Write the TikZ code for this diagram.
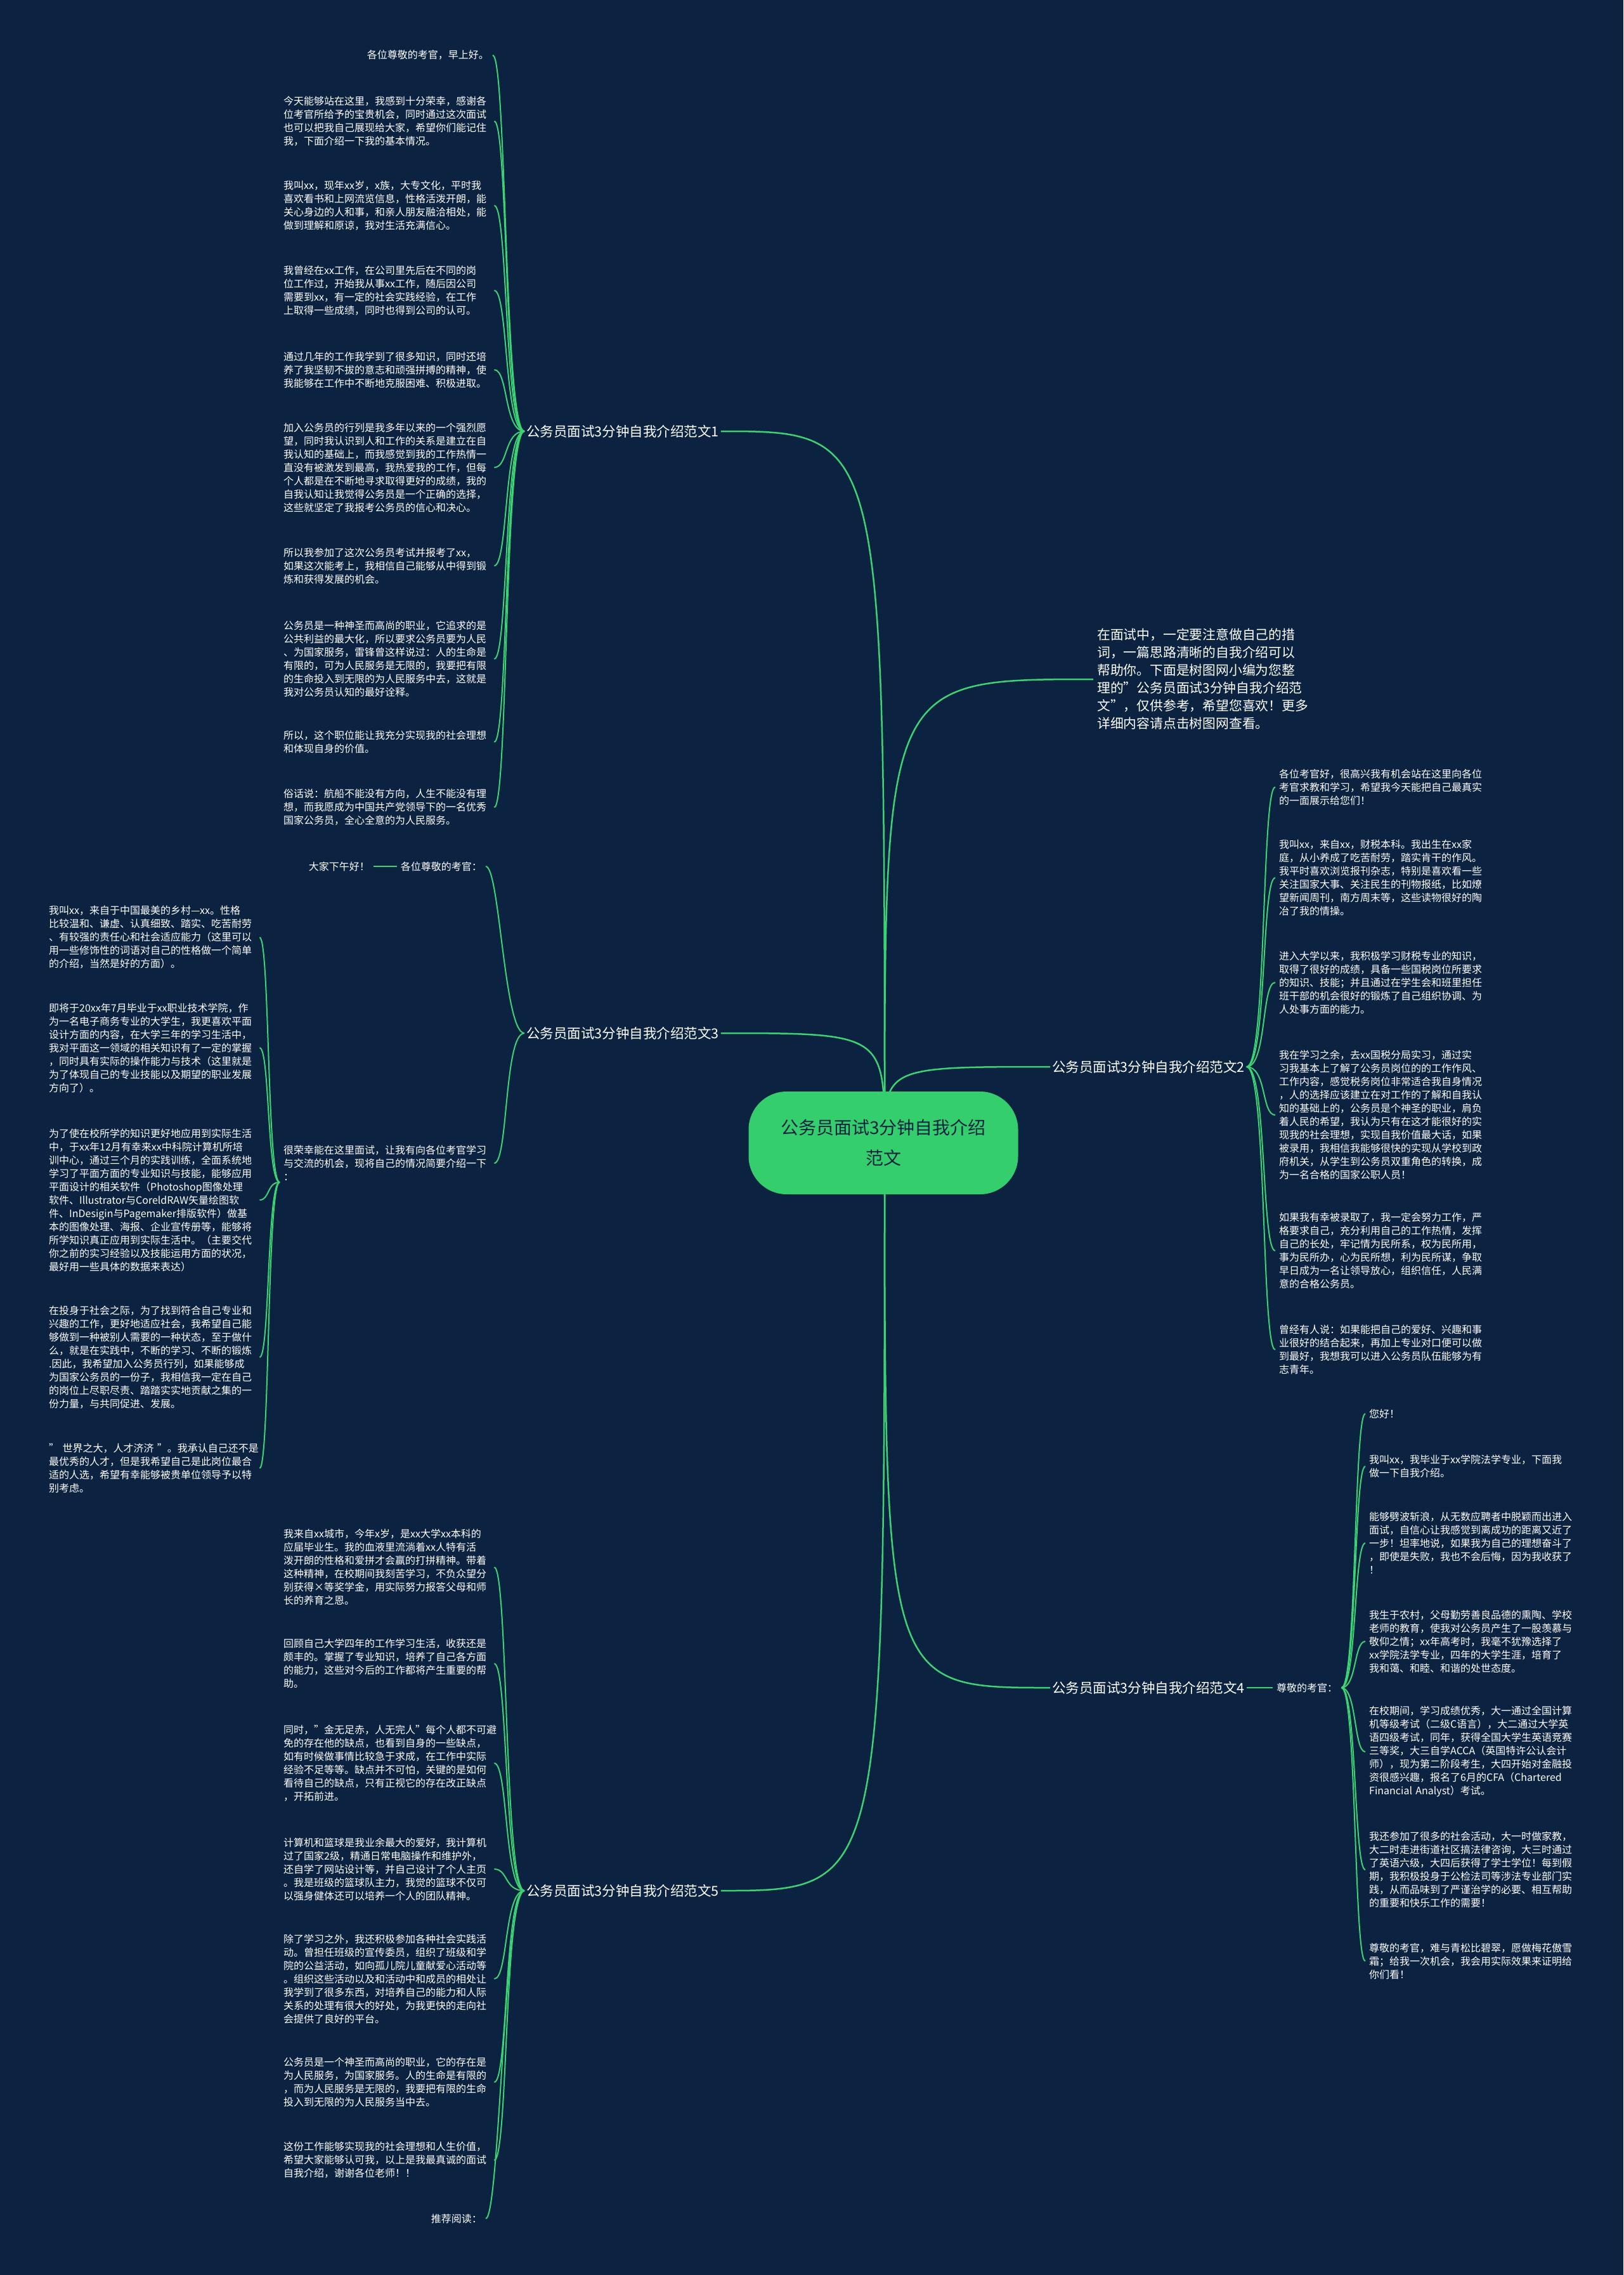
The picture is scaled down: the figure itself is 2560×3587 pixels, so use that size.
\documentclass[tikz,border=0pt]{standalone}
\usepackage{fontspec}
\setmainfont{Noto Sans CJK SC}
\usepackage{tikz}
\definecolor{night}{HTML}{0B2341}
\definecolor{leaf}{HTML}{3DD373}
\definecolor{pill}{HTML}{34CF6C}

\begin{document}
\begin{tikzpicture}[x=1pt,y=-1pt,
  txt/.style={anchor=west,align=left,text width=326pt,inner xsep=6pt,inner ysep=2pt,text=white,font=\fontsize{16}{21}\selectfont},
  tip/.style={inner xsep=6pt,inner ysep=2pt,text=white,font=\fontsize{16}{21}\selectfont},
  lab/.style={anchor=west,inner sep=3pt,text=white,font=\fontsize{21.5}{26}\selectfont},
  stem/.style={draw=leaf,line width=2.5pt},
  twig/.style={draw=leaf,line width=2pt}]
  \useasboundingbox (0,0) rectangle (2560,3587);
  \fill[night] (0,0) rectangle (2560,3587);

  % branch 1
  \node[lab] (b1) at (827,680) {公务员面试3分钟自我介绍范文1};
  \node[tip,anchor=east] (b1a) at (777,87) {各位尊敬的考官，早上好。};
  \node[txt] (b1b) at (441,191) {今天能够站在这里，我感到十分荣幸，感谢各\\位考官所给予的宝贵机会，同时通过这次面试\\也可以把我自己展现给大家，希望你们能记住\\我，下面介绍一下我的基本情况。};
  \node[txt] (b1c) at (441,324) {我叫xx，现年xx岁，x族，大专文化，平时我\\喜欢看书和上网流览信息，性格活泼开朗，能\\关心身边的人和事，和亲人朋友融洽相处，能\\做到理解和原谅，我对生活充满信心。};
  \node[txt] (b1d) at (441,458) {我曾经在xx工作，在公司里先后在不同的岗\\位工作过，开始我从事xx工作，随后因公司\\需要到xx，有一定的社会实践经验，在工作\\上取得一些成绩，同时也得到公司的认可。};
  \node[txt] (b1e) at (441,583) {通过几年的工作我学到了很多知识，同时还培\\养了我坚韧不拔的意志和顽强拼搏的精神，使\\我能够在工作中不断地克服困难、积极进取。};
  \node[txt] (b1f) at (441,737) {加入公务员的行列是我多年以来的一个强烈愿\\望，同时我认识到人和工作的关系是建立在自\\我认知的基础上，而我感觉到我的工作热情一\\直没有被激发到最高，我热爱我的工作，但每\\个人都是在不断地寻求取得更好的成绩，我的\\自我认知让我觉得公务员是一个正确的选择，\\这些就坚定了我报考公务员的信心和决心。};
  \node[txt] (b1g) at (441,892) {所以我参加了这次公务员考试并报考了xx，\\如果这次能考上，我相信自己能够从中得到锻\\炼和获得发展的机会。};
  \node[txt] (b1h) at (441,1039) {公务员是一种神圣而高尚的职业，它追求的是\\公共利益的最大化，所以要求公务员要为人民\\、为国家服务，雷锋曾这样说过：人的生命是\\有限的，可为人民服务是无限的，我要把有限\\的生命投入到无限的为人民服务中去，这就是\\我对公务员认知的最好诠释。};
  \node[txt] (b1i) at (441,1170) {所以，这个职位能让我充分实现我的社会理想\\和体现自身的价值。};
  \node[txt] (b1j) at (441,1273) {俗话说：航船不能没有方向，人生不能没有理\\想，而我愿成为中国共产党领导下的一名优秀\\国家公务员，全心全意的为人民服务。};
  \foreach \c in {b1a,b1b,b1c,b1d,b1e,b1f,b1g,b1h,b1i,b1j}
    \draw[twig] (b1.west) .. controls +(-32,0) and +(22,0) .. (\c.east);

  % branch 3
  \node[lab] (b3) at (827,1629) {公务员面试3分钟自我介绍范文3};
  \node[tip,anchor=east] (b3top) at (766,1366) {各位尊敬的考官：};
  \node[tip,anchor=east] (b3hi) at (589,1366) {大家下午好！};
  \node[txt] (b3hr) at (441,1834) {很荣幸能在这里面试，让我有向各位考官学习\\与交流的机会，现将自己的情况简要介绍一下\\：};
  \node[txt] (b3a) at (71,1478) {我叫xx，来自于中国最美的乡村—xx。性格\\比较温和、谦虚、认真细致、踏实、吃苦耐劳\\、有较强的责任心和社会适应能力（这里可以\\用一些修饰性的词语对自己的性格做一个简单\\的介绍，当然是好的方面）。};
  \node[txt] (b3b) at (71,1652) {即将于20xx年7月毕业于xx职业技术学院，作\\为一名电子商务专业的大学生，我更喜欢平面\\设计方面的内容，在大学三年的学习生活中，\\我对平面这一领域的相关知识有了一定的掌握\\，同时具有实际的操作能力与技术（这里就是\\为了体现自己的专业技能以及期望的职业发展\\方向了）。};
  \node[txt] (b3c) at (71,1892) {为了使在校所学的知识更好地应用到实际生活\\中，于xx年12月有幸来xx中科院计算机所培\\训中心，通过三个月的实践训练，全面系统地\\学习了平面方面的专业知识与技能，能够应用\\平面设计的相关软件（Photoshop图像处理\\软件、Illustrator与CoreldRAW矢量绘图软\\件、InDesigin与Pagemaker排版软件）做基\\本的图像处理、海报、企业宣传册等，能够将\\所学知识真正应用到实际生活中。（主要交代\\你之前的实习经验以及技能运用方面的状况，\\最好用一些具体的数据来表达）};
  \node[txt] (b3d) at (71,2140) {在投身于社会之际，为了找到符合自己专业和\\兴趣的工作，更好地适应社会，我希望自己能\\够做到一种被别人需要的一种状态，至于做什\\么，就是在实践中，不断的学习、不断的锻炼\\.因此，我希望加入公务员行列，如果能够成\\为国家公务员的一份子，我相信我一定在自己\\的岗位上尽职尽责、踏踏实实地贡献之集的一\\份力量，与共同促进、发展。};
  \node[txt] (b3e) at (71,2315) {"~世界之大，人才济济~"。我承认自己还不是\\最优秀的人才，但是我希望自己是此岗位最合\\适的人选，希望有幸能够被贵单位领导予以特\\别考虑。};
  \foreach \c in {b3top,b3hr}
    \draw[twig] (b3.west) .. controls +(-32,0) and +(22,0) .. (\c.east);
  \draw[twig] (b3top.west) -- (b3hi.east);
  \foreach \c in {b3a,b3b,b3c,b3d,b3e}
    \draw[twig] (b3hr.south west) .. controls +(-20,0) and +(16,0) .. (\c.east);

  % branch 5
  \node[lab] (b5) at (827,2981) {公务员面试3分钟自我介绍范文5};
  \node[txt] (b5a) at (441,2471) {我来自xx城市，今年x岁，是xx大学xx本科的\\应届毕业生。我的血液里流淌着xx人特有活\\泼开朗的性格和爱拼才会赢的打拼精神。带着\\这种精神，在校期间我刻苦学习，不负众望分\\别获得×等奖学金，用实际努力报答父母和师\\长的养育之恩。};
  \node[txt] (b5b) at (441,2623) {回顾自己大学四年的工作学习生活，收获还是\\颇丰的。掌握了专业知识，培养了自己各方面\\的能力，这些对今后的工作都将产生重要的帮\\助。};
  \node[txt] (b5c) at (441,2780) {同时，"金无足赤，人无完人"每个人都不可避\\免的存在他的缺点，也看到自身的一些缺点，\\如有时候做事情比较急于求成，在工作中实际\\经验不足等等。缺点并不可怕，关键的是如何\\看待自己的缺点，只有正视它的存在改正缺点\\，开拓前进。};
  \node[txt] (b5d) at (441,2947) {计算机和篮球是我业余最大的爱好，我计算机\\过了国家2级，精通日常电脑操作和维护外，\\还自学了网站设计等，并自己设计了个人主页\\。我是班级的篮球队主力，我觉的篮球不仅可\\以强身健体还可以培养一个人的团队精神。};
  \node[txt] (b5e) at (441,3120) {除了学习之外，我还积极参加各种社会实践活\\动。曾担任班级的宣传委员，组织了班级和学\\院的公益活动，如向孤儿院儿童献爱心活动等\\。组织这些活动以及和活动中和成员的相处让\\我学到了很多东西，对培养自己的能力和人际\\关系的处理有很大的好处，为我更快的走向社\\会提供了良好的平台。};
  \node[txt] (b5f) at (441,3283) {公务员是一个神圣而高尚的职业，它的存在是\\为人民服务，为国家服务。人的生命是有限的\\，而为人民服务是无限的，我要把有限的生命\\投入到无限的为人民服务当中去。};
  \node[txt] (b5g) at (441,3406) {这份工作能够实现我的社会理想和人生价值，\\希望大家能够认可我，以上是我最真诚的面试\\自我介绍，谢谢各位老师！！};
  \node[tip,anchor=east] (b5h) at (766,3498) {推荐阅读：};
  \foreach \c in {b5a,b5b,b5c,b5d,b5e,b5f,b5g,b5h}
    \draw[twig] (b5.west) .. controls +(-32,0) and +(22,0) .. (\c.east);

  % intro text
  \node[anchor=west,align=left,inner xsep=6pt,text=white,font=\fontsize{20.8}{28}\selectfont] (intro) at (1724,1071) {在面试中，一定要注意做自己的措\\词，一篇思路清晰的自我介绍可以\\帮助你。下面是树图网小编为您整\\理的"公务员面试3分钟自我介绍范\\文"，仅供参考，希望您喜欢！更多\\详细内容请点击树图网查看。};

  % branch 2
  \node[lab] (b2) at (1656,1682) {公务员面试3分钟自我介绍范文2};
  \node[txt] (b2a) at (2011,1241) {各位考官好，很高兴我有机会站在这里向各位\\考官求教和学习，希望我今天能把自己最真实\\的一面展示给您们！};
  \node[txt] (b2b) at (2011,1384) {我叫xx，来自xx，财税本科。我出生在xx家\\庭，从小养成了吃苦耐劳，踏实肯干的作风。\\我平时喜欢浏览报刊杂志，特别是喜欢看一些\\关注国家大事、关注民生的刊物报纸，比如燎\\望新闻周刊，南方周末等，这些读物很好的陶\\冶了我的情操。};
  \node[txt] (b2c) at (2011,1549) {进入大学以来，我积极学习财税专业的知识，\\取得了很好的成绩，具备一些国税岗位所要求\\的知识、技能；并且通过在学生会和班里担任\\班干部的机会很好的锻炼了自己组织协调、为\\人处事方面的能力。};
  \node[txt] (b2d) at (2011,1758) {我在学习之余，去xx国税分局实习，通过实\\习我基本上了解了公务员岗位的的工作作风、\\工作内容，感觉税务岗位非常适合我自身情况\\，人的选择应该建立在对工作的了解和自我认\\知的基础上的，公务员是个神圣的职业，肩负\\着人民的希望，我认为只有在这才能很好的实\\现我的社会理想，实现自我价值最大话，如果\\被录用，我相信我能够很快的实现从学校到政\\府机关，从学生到公务员双重角色的转换，成\\为一名合格的国家公职人员！};
  \node[txt] (b2e) at (2011,1972) {如果我有幸被录取了，我一定会努力工作，严\\格要求自己，充分利用自己的工作热情，发挥\\自己的长处，牢记情为民所系，权为民所用，\\事为民所办，心为民所想，利为民所谋，争取\\早日成为一名让领导放心，组织信任，人民满\\意的合格公务员。};
  \node[txt] (b2f) at (2011,2128) {曾经有人说：如果能把自己的爱好、兴趣和事\\业很好的结合起来，再加上专业对口便可以做\\到最好，我想我可以进入公务员队伍能够为有\\志青年。};
  \foreach \c in {b2a,b2b,b2c,b2d,b2e,b2f}
    \draw[twig] (b2.east) .. controls +(32,0) and +(-22,0) .. (\c.west);

  % branch 4
  \node[lab] (b4) at (1656,2661) {公务员面试3分钟自我介绍范文4};
  \node[tip,anchor=west] (b4mid) at (2007,2661) {尊敬的考官：};
  \node[txt] (b4a) at (2153,2229) {您好！};
  \node[txt] (b4b) at (2153,2312) {我叫xx，我毕业于xx学院法学专业，下面我\\做一下自我介绍。};
  \node[txt] (b4c) at (2153,2433) {能够劈波斩浪，从无数应聘者中脱颖而出进入\\面试，自信心让我感觉到离成功的距离又近了\\一步！坦率地说，如果我为自己的理想奋斗了\\，即使是失败，我也不会后悔，因为我收获了\\！};
  \node[txt] (b4d) at (2153,2588) {我生于农村，父母勤劳善良品德的熏陶、学校\\老师的教育，使我对公务员产生了一股羡慕与\\敬仰之情；xx年高考时，我毫不犹豫选择了\\xx学院法学专业，四年的大学生涯，培育了\\我和蔼、和睦、和谐的处世态度。};
  \node[txt] (b4e) at (2153,2762) {在校期间，学习成绩优秀，大一通过全国计算\\机等级考试（二级C语言），大二通过大学英\\语四级考试，同年，获得全国大学生英语竞赛\\三等奖，大三自学ACCA（英国特许公认会计\\师），现为第二阶段考生，大四开始对金融投\\资很感兴趣，报名了6月的CFA（Chartered\\Financial~Analyst）考试。};
  \node[txt] (b4f) at (2153,2948) {我还参加了很多的社会活动，大一时做家教，\\大二时走进街道社区搞法律咨询，大三时通过\\了英语六级，大四后获得了学士学位！每到假\\期，我积极投身于公检法司等涉法专业部门实\\践，从而品味到了严谨治学的必要、相互帮助\\的重要和快乐工作的需要！};
  \node[txt] (b4g) at (2153,3092) {尊敬的考官，难与青松比碧翠，愿做梅花傲雪\\霜；给我一次机会，我会用实际效果来证明给\\你们看！};
  \draw[twig] (b4.east) -- (b4mid.west);
  \foreach \c in {b4a,b4b,b4c,b4d,b4e,b4f,b4g}
    \draw[twig] (b4mid.east) .. controls +(24,0) and +(-18,0) .. (\c.west);

  % centre
  \coordinate (hub) at (1395,1805);
  \foreach \c in {b1,b3,b5}
    \draw[stem] (hub) .. controls (hub |- \c.east) .. (\c.east);
  \foreach \c in {intro,b2,b4}
    \draw[stem] (hub) .. controls (hub |- \c.west) .. (\c.west);
  \node[fill=pill,rounded corners=60pt,minimum width=425pt,minimum height=162pt,align=center,text=night,font=\fontsize{28}{48}\selectfont] (root) at (1393,1802) {公务员面试3分钟自我介绍\\范文};
\end{tikzpicture}
\end{document}
